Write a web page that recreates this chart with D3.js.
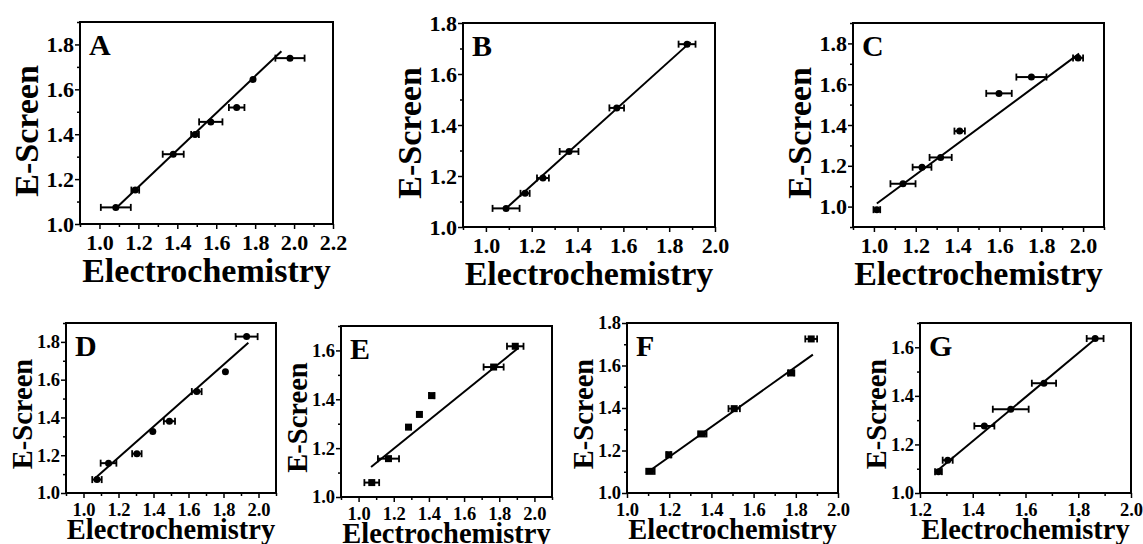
<!DOCTYPE html>
<html>
<head>
<meta charset="utf-8">
<script src="https://cdn.jsdelivr.net/npm/d3@7"></script>
<style>
body { margin: 0; background: #fff; }
svg text { font-family: "Liberation Serif", "Times New Roman", serif; font-weight: bold; fill: #000; }
</style>
</head>
<body>
<svg id="svg" width="1143" height="544"></svg>
<script>
"use strict";

// A
const electroA = [1.084, 1.184, 1.379, 1.491, 1.572, 1.705, 1.789, 1.979];
const screenA = [1.074, 1.151, 1.311, 1.399, 1.455, 1.519, 1.644, 1.739];
const errA = [0.077, 0.02, 0.054, 0.02, 0.06, 0.04, 0, 0.075];
const fitA = [[1.09, 1.075], [1.935, 1.77]];

// B
const electroB = [1.088, 1.171, 1.249, 1.363, 1.571, 1.878];
const screenB = [1.073, 1.132, 1.192, 1.296, 1.467, 1.717];
const errB = [0.059, 0.02, 0.026, 0.041, 0.032, 0.037];
const fitB = [[1.088, 1.073], [1.893, 1.725]];

// C
const electroC = [1.014, 1.139, 1.230, 1.319, 1.410, 1.598, 1.753, 1.976];
const screenC = [0.985, 1.112, 1.193, 1.241, 1.370, 1.555, 1.635, 1.729];
const errC = [0.016, 0.06, 0.045, 0.053, 0.025, 0.061, 0.072, 0.024];
const fitC = [[1.014, 1.015], [1.981, 1.75]];

// D
const electroD = [1.077, 1.143, 1.305, 1.396, 1.491, 1.647, 1.811, 1.932];
const screenD = [1.071, 1.158, 1.208, 1.325, 1.380, 1.537, 1.642, 1.828];
const errD = [0.027, 0.045, 0.027, 0, 0.032, 0.028, 0, 0.063];
const fitD = [[1.063, 1.075], [1.942, 1.796]];

// E
const electroE = [1.075, 1.170, 1.284, 1.346, 1.416, 1.768, 1.891];
const screenE = [1.059, 1.157, 1.286, 1.338, 1.415, 1.532, 1.617];
const errE = [0.042, 0.06, 0, 0, 0.015, 0.057, 0.047];
const fitE = [[1.071, 1.123], [1.91, 1.611]];

// F
const electroF = [1.111, 1.198, 1.357, 1.508, 1.778, 1.873];
const screenF = [1.102, 1.180, 1.278, 1.397, 1.565, 1.725];
const errF = [0.02, 0.01, 0.02, 0.027, 0.015, 0.028];
const fitF = [[1.111, 1.107], [1.881, 1.651]];

// G
const electroG = [1.270, 1.305, 1.444, 1.544, 1.670, 1.864];
const screenG = [1.088, 1.135, 1.276, 1.345, 1.452, 1.636];
const errG = [0.013, 0.019, 0.038, 0.068, 0.046, 0.032];
const fitG = [[1.257, 1.084], [1.87, 1.639]];

// tick labels
const xTicks10to22 = [1.0, 1.2, 1.4, 1.6, 1.8, 2.0, 2.2];
const xTicks10to20 = [1.0, 1.2, 1.4, 1.6, 1.8, 2.0];
const xTicks12to20 = [1.2, 1.4, 1.6, 1.8, 2.0];
const yTicks10to18 = [1.0, 1.2, 1.4, 1.6, 1.8];
const yTicks10to16 = [1.0, 1.2, 1.4, 1.6];

const xTitle = "Electrochemistry";
const yTitle = "E-Screen";

const panels = [
  { name: "A", x: electroA, y: screenA, err: errA, fit: fitA, xDom: [0.9, 2.2], yDom: [1.0, 1.9], xt: xTicks10to22, yt: yTicks10to18, box: [80, 22, 333, 224], big: true, shape: "circle" },
  { name: "B", x: electroB, y: screenB, err: errB, fit: fitB, xDom: [0.9, 2.0], yDom: [1.0, 1.8], xt: xTicks10to20, yt: yTicks10to18, box: [463, 23, 715, 227], big: true, shape: "circle" },
  { name: "C", x: electroC, y: screenC, err: errC, fit: fitC, xDom: [0.9, 2.1], yDom: [0.9, 1.9], xt: xTicks10to20, yt: yTicks10to18, box: [853, 23, 1104, 227], big: true, shape: "circle" },
  { name: "D", x: electroD, y: screenD, err: errD, fit: fitD, xDom: [0.9, 2.1], yDom: [1.0, 1.9], xt: xTicks10to20, yt: yTicks10to18, box: [66, 323, 276, 493], big: false, shape: "circle" },
  { name: "E", x: electroE, y: screenE, err: errE, fit: fitE, xDom: [0.9, 2.1], yDom: [1.0, 1.7], xt: xTicks10to20, yt: yTicks10to16, box: [341, 326, 552, 497], big: false, shape: "square" },
  { name: "F", x: electroF, y: screenF, err: errF, fit: fitF, xDom: [1.0, 2.0], yDom: [1.0, 1.8], xt: xTicks10to20, yt: yTicks10to18, box: [627, 323, 838, 493], big: false, shape: "square" },
  { name: "G", x: electroG, y: screenG, err: errG, fit: fitG, xDom: [1.2, 2.0], yDom: [1.0, 1.7], xt: xTicks12to20, yt: yTicks10to16, box: [920, 323, 1131, 493], big: false, shape: "circle" }
];

const svg = d3.select("#svg");

function minors(ticks, dom) {
  let step = ticks[1] - ticks[0];
  let out = [];
  for (let v = ticks[0] - step / 2; v <= dom[1] + 1e-9; v += step) {
    if (v >= dom[0] - 1e-9) out.push(v);
  }
  return out;
}

panels.forEach(function(p) {
  let [x0, y0, x1, y1] = p.box;
  let tickFont = p.big ? 22 : 18.5;
  let titleFont = p.big ? 34 : 28.5;

  let xScale = d3.scaleLinear().domain(p.xDom).range([x0, x1]);
  let yScale = d3.scaleLinear().domain(p.yDom).range([y1, y0]);

  let g = svg.append("g").attr("class", "panel");

  // minor ticks
  g.append("g")
    .attr("transform", "translate(0," + y1 + ")")
    .call(d3.axisBottom(xScale).tickValues(minors(p.xt, p.xDom)).tickSize(3).tickFormat(""))
    .call(s => s.select(".domain").remove())
    .selectAll("line").attr("stroke-width", 1.5);
  g.append("g")
    .attr("transform", "translate(" + x0 + ",0)")
    .call(d3.axisLeft(yScale).tickValues(minors(p.yt, p.yDom)).tickSize(3).tickFormat(""))
    .call(s => s.select(".domain").remove())
    .selectAll("line").attr("stroke-width", 1.5);

  // major ticks
  let gx = g.append("g")
    .attr("transform", "translate(0," + y1 + ")")
    .call(d3.axisBottom(xScale).tickValues(p.xt).tickSize(5).tickPadding(p.big ? 5 : 4.5).tickFormat(d3.format(".1f")));
  gx.select(".domain").remove();
  gx.selectAll("line").attr("stroke-width", 1.5);
  gx.selectAll("text").style("font-size", tickFont + "px").attr("fill", "#000");

  let gy = g.append("g")
    .attr("transform", "translate(" + x0 + ",0)")
    .call(d3.axisLeft(yScale).tickValues(p.yt).tickSize(5).tickPadding(1).tickFormat(d3.format(".1f")));
  gy.select(".domain").remove();
  gy.selectAll("line").attr("stroke-width", 1.5);
  gy.selectAll("text").style("font-size", tickFont + "px").attr("fill", "#000");

  // frame
  g.append("rect")
    .attr("x", x0).attr("y", y0)
    .attr("width", x1 - x0).attr("height", y1 - y0)
    .attr("fill", "none").attr("stroke", "#000").attr("stroke-width", 2);

  // fit line
  g.append("line")
    .attr("x1", xScale(p.fit[0][0])).attr("y1", yScale(p.fit[0][1]))
    .attr("x2", xScale(p.fit[1][0])).attr("y2", yScale(p.fit[1][1]))
    .attr("stroke", "#000").attr("stroke-width", 2);

  let pts = p.x.map((v, i) => ({ x: v, y: p.y[i], e: p.err[i] }));

  // error bars
  let eb = g.selectAll("g.err").data(pts.filter(d => d.e > 0)).enter().append("g").attr("class", "err");
  eb.append("line")
    .attr("x1", d => xScale(d.x - d.e)).attr("x2", d => xScale(d.x + d.e))
    .attr("y1", d => yScale(d.y)).attr("y2", d => yScale(d.y))
    .attr("stroke", "#000").attr("stroke-width", 2);
  [-1, 1].forEach(function(sgn) {
    eb.append("line")
      .attr("x1", d => xScale(d.x + sgn * d.e)).attr("x2", d => xScale(d.x + sgn * d.e))
      .attr("y1", d => yScale(d.y) - 3.5).attr("y2", d => yScale(d.y) + 3.5)
      .attr("stroke", "#000").attr("stroke-width", 1.8);
  });

  // markers
  if (p.shape === "square") {
    g.selectAll("rect.dot").data(pts).enter().append("rect")
      .attr("class", "dot")
      .attr("x", d => xScale(d.x) - 3.5).attr("y", d => yScale(d.y) - 3.5)
      .attr("width", 7).attr("height", 7).attr("fill", "#000");
  } else {
    g.selectAll("circle.dot").data(pts).enter().append("circle")
      .attr("class", "dot")
      .attr("cx", d => xScale(d.x)).attr("cy", d => yScale(d.y))
      .attr("r", 3.5).attr("fill", "#000");
  }

  // panel letter
  g.append("text")
    .attr("x", x0 + 9).attr("y", y0 + 33)
    .style("font-size", "30px")
    .text(p.name);

  // axis titles
  g.append("text")
    .attr("text-anchor", "middle")
    .attr("x", (x0 + x1) / 2)
    .attr("y", y1 + (p.big ? 58 : 46))
    .style("font-size", titleFont + "px")
    .text(xTitle);

  let ty = (y0 + y1) / 2 + (p.big ? 8 : 6);
  let tx = x0 - (p.big ? 42 : 34);
  g.append("text")
    .attr("text-anchor", "middle")
    .attr("transform", "translate(" + tx + "," + ty + ") rotate(-90)")
    .style("font-size", titleFont + "px")
    .text(yTitle);
});
</script>
</body>
</html>
